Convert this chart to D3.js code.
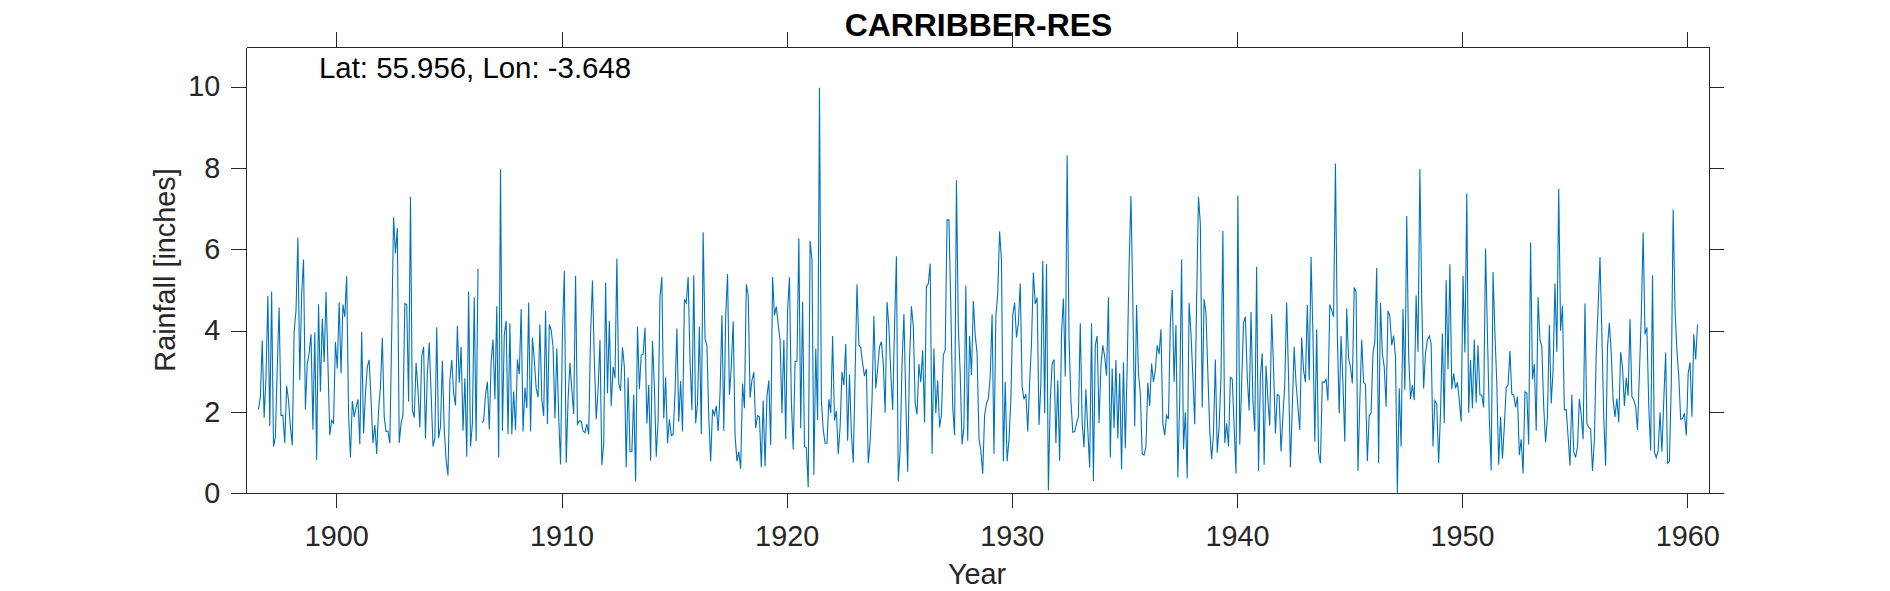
<!DOCTYPE html>
<html>
<head>
<meta charset="utf-8">
<title>CARRIBBER-RES</title>
<script src="https://cdn.jsdelivr.net/npm/d3@7"></script>
<style>
  html, body { margin: 0; padding: 0; background: #fff; }
  text { font-family: "Liberation Sans", Arial, sans-serif; }
</style>
</head>
<body>
<div id="chart"></div>
<script>
const yearTicks = [1900, 1910, 1920, 1930, 1940, 1950, 1960];
const rainTicks = [0, 2, 4, 6, 8, 10];

// monthly totals in inches, July 1896 onwards, null = missing month
const rainfall = [
  2.06,2.37,3.76,1.86,2.87,4.85,1.65,4.96,1.15,1.38,3.10,4.57,1.91,1.92,1.24,2.64,2.29,1.64,1.18,3.97,
  4.50,6.29,2.78,4.90,5.75,2.06,3.19,3.44,3.91,1.56,3.96,0.82,4.65,2.50,4.29,3.23,4.95,3.20,1.43,1.79,
  1.72,3.72,3.07,4.70,2.95,4.64,4.34,5.34,1.97,0.88,2.27,1.87,2.11,2.31,1.20,3.97,1.47,2.46,3.11,3.28,
  2.29,1.23,1.68,0.97,2.05,2.62,3.82,1.88,1.52,1.53,1.23,3.93,6.79,5.90,6.52,1.24,1.72,1.92,4.67,4.64,
  2.25,7.29,2.05,1.86,3.21,2.54,1.62,3.37,3.60,1.35,2.95,3.71,2.46,1.15,1.35,4.08,1.36,1.64,3.26,1.56,
  0.82,0.44,2.78,3.28,2.46,2.16,4.12,2.72,3.60,1.54,2.83,0.90,4.96,1.15,1.72,4.82,1.28,5.52,null,1.74,
  1.78,2.42,2.74,1.57,3.24,3.78,2.31,4.60,0.88,7.97,1.54,3.89,4.24,1.45,4.18,1.45,2.50,1.56,3.29,2.93,
  4.53,1.52,2.60,2.09,4.69,1.52,3.83,3.28,2.58,2.36,4.15,2.29,1.90,4.49,1.70,4.15,4.01,3.60,1.84,3.56,
  1.88,0.71,3.93,5.47,0.75,2.29,3.21,2.54,1.95,5.35,1.70,1.78,1.77,1.53,1.49,1.70,1.45,3.93,5.23,3.28,
  1.82,2.54,3.77,0.69,1.23,5.18,2.46,4.24,2.15,3.11,2.83,5.77,2.70,2.52,3.59,3.11,0.64,2.85,1.02,
  1.02,2.42,0.29,4.10,2.56,3.40,3.42,4.07,1.72,2.66,0.80,3.75,2.62,0.90,1.80,4.83,5.32,1.84,2.85,1.23,
  1.82,1.42,1.45,2.46,4.05,1.76,2.76,1.52,4.77,4.68,5.32,3.28,2.05,5.36,1.72,2.21,4.10,1.45,6.42,3.81,
  3.64,1.88,0.78,2.06,1.92,2.15,1.53,2.46,4.38,1.54,4.34,5.39,2.42,3.11,4.23,1.43,0.79,1.02,0.60,2.70,
  2.09,5.14,4.87,2.35,2.78,2.98,1.60,1.91,1.88,0.64,2.28,0.66,2.38,2.78,1.18,5.32,4.38,4.59,4.14,3.77,
  1.97,3.77,1.33,4.50,5.31,2.29,1.08,3.24,3.25,6.27,1.60,4.71,1.15,1.12,0.15,6.21,5.73,0.45,3.56,1.80,
  9.97,2.29,1.56,1.23,1.23,2.31,1.97,3.87,1.79,2.03,0.97,1.64,2.99,2.66,3.67,1.29,2.93,1.47,0.75,2.95,
  5.14,3.64,3.59,3.19,2.88,3.06,0.74,1.27,2.29,4.36,2.58,3.07,3.60,3.73,3.19,1.98,4.70,4.10,2.95,2.05,
  4.10,5.83,0.29,1.06,3.19,4.41,2.29,0.53,3.28,4.60,4.10,2.21,1.94,3.18,2.73,3.52,1.74,5.08,5.16,5.65,
  0.97,3.56,1.97,2.78,1.62,1.92,3.40,3.52,6.73,6.72,4.59,2.13,1.43,7.70,4.10,2.95,1.20,1.64,5.11,1.29,
  3.87,2.91,4.73,3.89,3.44,1.35,1.06,0.48,1.92,2.21,2.32,2.87,4.40,0.97,4.34,4.91,6.44,5.73,0.79,2.74,
  0.79,1.31,2.29,4.38,4.69,3.83,4.18,5.16,
  2.62,2.31,2.44,1.52,2.70,3.69,5.43,4.65,4.81,1.68,2.70,5.71,1.97,5.63,0.07,2.29,3.18,3.29,1.23,2.78,
  0.80,3.93,4.79,2.87,8.31,3.85,2.29,1.50,1.52,1.72,1.88,4.18,1.72,1.13,2.56,1.56,0.63,4.18,0.30,3.64,
  3.87,1.72,3.11,3.64,3.36,2.89,4.82,0.88,3.07,1.60,3.28,1.35,2.95,0.59,3.22,1.11,3.11,5.57,7.31,4.75,
  1.64,4.63,2.95,2.46,0.97,0.94,1.15,2.72,2.15,3.19,2.74,3.03,3.64,3.42,4.03,1.72,1.43,1.92,1.83,4.18,
  5.00,2.74,4.14,0.39,2.29,5.75,1.08,1.99,0.37,4.68,3.93,2.87,1.70,4.75,7.29,6.63,2.11,4.77,4.42,2.95,
  1.56,0.84,1.47,3.29,1.00,1.64,2.85,6.45,1.24,1.72,1.15,2.85,2.81,1.64,0.49,7.32,1.20,2.70,4.19,4.34,
  2.87,2.03,4.46,2.29,1.52,5.57,0.55,2.87,3.44,0.70,3.14,2.29,1.66,4.41,3.11,1.47,2.43,2.40,1.03,1.88,
  2.70,4.69,2.87,0.64,2.13,3.60,2.70,2.13,1.56,3.83,3.03,2.74,4.63,2.78,5.81,3.93,1.27,4.03,0.98,0.74,
  2.74,2.73,2.80,2.28,4.64,4.50,4.34,8.11,3.93,1.97,3.87,2.70,1.27,4.55,3.32,3.11,2.70,5.06,4.95,0.55,
  2.29,3.78,2.73,2.68,0.79,1.92,1.97,3.44,3.73,5.54,0.74,4.68,3.44,3.11,2.13,4.49,4.36,3.64,3.88,3.36,
  0.00,2.58,1.15,4.53,2.54,6.82,3.44,
  2.32,2.66,2.29,4.87,3.48,7.97,4.75,2.58,3.44,3.77,3.87,3.69,1.15,2.28,2.19,0.74,1.97,3.93,1.72,5.24,
  3.05,5.63,2.56,2.95,2.58,2.73,2.29,1.76,5.35,3.46,7.37,1.98,3.28,2.09,3.78,2.23,3.64,2.42,2.41,2.11,
  6.02,3.93,1.88,0.56,5.44,3.93,2.70,0.70,1.88,0.85,1.64,2.60,2.66,3.50,2.44,2.42,2.11,2.38,0.94,1.33,
  0.49,2.50,2.46,1.20,6.17,2.80,3.18,1.54,4.82,3.77,3.60,2.13,1.25,1.88,4.14,2.21,3.03,5.16,3.48,7.49,
  4.00,4.61,2.05,2.06,1.39,0.68,2.43,1.02,0.88,1.15,2.32,1.92,1.33,4.67,1.72,1.62,1.58,0.55,1.31,3.44,
  4.59,5.81,3.93,1.88,0.68,3.60,4.19,3.44,2.29,1.88,2.33,1.74,3.47,3.11,2.15,2.84,2.40,4.28,2.38,2.29,
  2.13,1.56,2.95,4.34,6.41,3.91,4.08,2.13,1.05,5.36,1.02,0.88,1.05,1.99,1.02,2.29,3.46,0.74,0.78,2.70,
  6.98,4.50,3.52,2.87,1.82,1.84,1.97,1.42,2.95,3.22,1.88,3.91,3.29,4.15
];

const startYear = 1896, startMonth = 6.5;

function drawRainfall(containerId, width=1890, height=591) {
    const margin = {top: 47.3, right: 180.7, bottom: 97.7, left: 246.3};
    const innerWidth = width - margin.left - margin.right;
    const innerHeight = height - margin.top - margin.bottom;
    const axisColor = "#262626";

    const svg = d3.select(`#${containerId}`)
        .append("svg")
        .attr("width", width)
        .attr("height", height)
        .style("display", "block");

    const g = svg.append("g")
        .attr("transform", `translate(${margin.left},${margin.top})`);

    const x = d3.scaleLinear().domain([1896, 1960.98]).range([0, innerWidth]);
    const y = d3.scaleLinear().domain([0, d3.max(rainfall) * 1.1]).range([innerHeight, 0]);

    const series = rainfall.map((v, i) => ({
        year: startYear + (i + startMonth) / 12,
        rain: v
    }));

    const line = d3.line()
        .defined(d => d.rain !== null)
        .x(d => x(d.year))
        .y(d => y(d.rain));

    g.append("path")
        .datum(series)
        .attr("d", line)
        .attr("fill", "none")
        .attr("stroke", "#0072BD")
        .attr("stroke-width", 1.1);

    // box-style axes, ticks point outward on all four sides
    const axes = [
        {axis: d3.axisBottom(x).tickValues(yearTicks).tickFormat(d3.format("d")), at: `translate(0,${innerHeight})`, pad: 17},
        {axis: d3.axisTop(x).tickValues(yearTicks).tickFormat(""), at: "translate(0,0)", pad: 3},
        {axis: d3.axisLeft(y).tickValues(rainTicks).tickFormat(d3.format("d")), at: "translate(0,0)", pad: 11},
        {axis: d3.axisRight(y).tickValues(rainTicks).tickFormat(""), at: `translate(${innerWidth},0)`, pad: 3}
    ];
    axes.forEach(a => {
        const ag = g.append("g")
            .attr("transform", a.at)
            .call(a.axis.tickSize(15).tickSizeOuter(0).tickPadding(a.pad));
        ag.selectAll("path, line")
            .attr("stroke", axisColor)
            .attr("stroke-width", 1)
            .attr("shape-rendering", "crispEdges");
        ag.selectAll("text")
            .attr("fill", axisColor)
            .style("font-size", "28.8px")
            .style("font-family", '"Liberation Sans", Arial, sans-serif');
    });

    // labels
    svg.append("text")
        .attr("x", 978.5)
        .attr("y", 36)
        .style("text-anchor", "middle")
        .style("font-size", "31.9px")
        .style("font-weight", "bold")
        .attr("fill", "#000")
        .text("CARRIBBER-RES");

    svg.append("text")
        .attr("x", 319)
        .attr("y", 78)
        .style("font-size", "29.4px")
        .attr("fill", "#000")
        .text("Lat: 55.956, Lon: -3.648");

    svg.append("text")
        .attr("x", 977)
        .attr("y", 584)
        .style("text-anchor", "middle")
        .style("font-size", "28.8px")
        .attr("fill", axisColor)
        .text("Year");

    svg.append("text")
        .attr("transform", "rotate(-90)")
        .attr("x", -270)
        .attr("y", 175)
        .style("text-anchor", "middle")
        .style("font-size", "28.8px")
        .attr("fill", axisColor)
        .text("Rainfall [inches]");
}

drawRainfall("chart");
</script>
</body>
</html>
